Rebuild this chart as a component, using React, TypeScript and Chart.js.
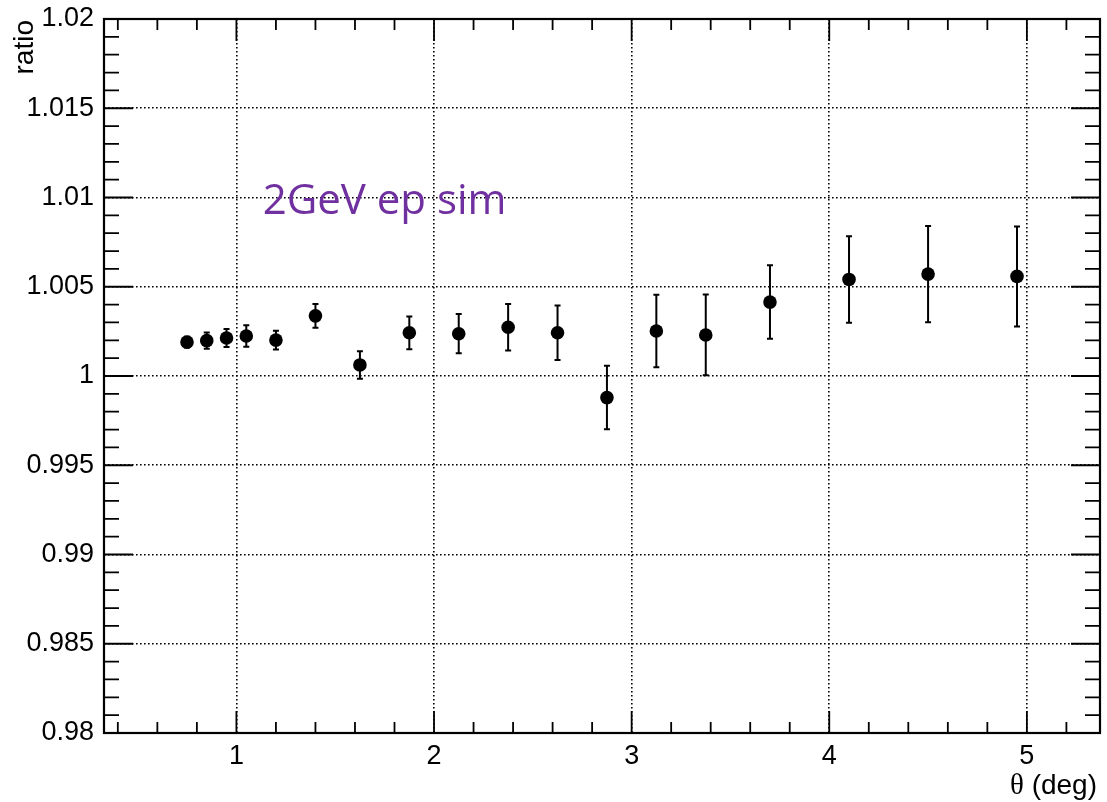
import React, { useEffect, useRef } from 'react';
import { Chart, registerables } from 'chart.js';

Chart.register(...registerables);

// ---- data ----
const thetaDeg = [0.75, 0.85, 0.95, 1.05, 1.2, 1.4, 1.625, 1.875, 2.125, 2.375, 2.625, 2.875, 3.125, 3.375, 3.7, 4.1, 4.5, 4.95];
const ratioValues = [1.0019, 1.00198, 1.00213, 1.00224, 1.00201, 1.00337, 1.00062, 1.00242, 1.00237, 1.00273, 1.00242, 0.99879, 1.00252, 1.0023, 1.00414, 1.00541, 1.00571, 1.00558];
const ratioErrors = [0.0003, 0.00045, 0.0005, 0.0006, 0.00052, 0.00067, 0.00077, 0.00092, 0.0011, 0.0013, 0.00153, 0.00178, 0.00203, 0.00226, 0.00206, 0.00242, 0.0027, 0.0028];

const xTickValues = [1, 2, 3, 4, 5];
const xTickLabels = ['1', '2', '3', '4', '5'];
const yTickValues = [0.98, 0.985, 0.99, 0.995, 1, 1.005, 1.01, 1.015, 1.02];
const yTickLabels = ['0.98', '0.985', '0.99', '0.995', '1', '1.005', '1.01', '1.015', '1.02'];
const xMinorTicks = [0.4, 0.6, 0.8, 1.2, 1.4, 1.6, 1.8, 2.2, 2.4, 2.6, 2.8, 3.2, 3.4, 3.6, 3.8, 4.2, 4.4, 4.6, 4.8, 5.2];
const yMinorTicks = [0.981, 0.982, 0.983, 0.984, 0.986, 0.987, 0.988, 0.989, 0.991, 0.992, 0.993, 0.994, 0.996, 0.997, 0.998, 0.999, 1.001, 1.002, 1.003, 1.004, 1.006, 1.007, 1.008, 1.009, 1.011, 1.012, 1.013, 1.014, 1.016, 1.017, 1.018, 1.019];

const xRange = [0.33, 5.37];
const yRange = [0.98, 1.02];
const annotationText = '2GeV ep sim';
const annotationPos = { x: 1.133, y: 1.00907 };
const yTitle = 'ratio';
const xTitleSymbol = 'θ';
const xTitleRest = ' (deg)';

const SANS = "'Liberation Sans', Arial, Helvetica, sans-serif";

const rootPlugin = {
  id: 'rootStyle',
  beforeDatasetsDraw(chart: any) {
    const { ctx } = chart;
    const xs = chart.scales.x;
    const ys = chart.scales.y;
    ctx.save();
    ctx.strokeStyle = '#000';
    ctx.lineWidth = 2;
    thetaDeg.forEach((t, i) => {
      const px = xs.getPixelForValue(t);
      const lo = ys.getPixelForValue(ratioValues[i] - ratioErrors[i]);
      const hi = ys.getPixelForValue(ratioValues[i] + ratioErrors[i]);
      ctx.beginPath();
      ctx.moveTo(px, lo);
      ctx.lineTo(px, hi);
      ctx.moveTo(px - 3, lo);
      ctx.lineTo(px + 3, lo);
      ctx.moveTo(px - 3, hi);
      ctx.lineTo(px + 3, hi);
      ctx.stroke();
    });
    ctx.restore();
  },
  afterDraw(chart: any) {
    const { ctx, chartArea } = chart;
    const { left, right, top, bottom } = chartArea;
    const xs = chart.scales.x;
    const ys = chart.scales.y;
    ctx.save();
    ctx.strokeStyle = '#000';
    // ticks
    ctx.lineWidth = 1.8;
    ctx.beginPath();
    const xTick = (v: number, len: number) => {
      const p = xs.getPixelForValue(v);
      ctx.moveTo(p, bottom);
      ctx.lineTo(p, bottom - len);
      ctx.moveTo(p, top);
      ctx.lineTo(p, top + len);
    };
    const yTick = (v: number, len: number) => {
      const p = ys.getPixelForValue(v);
      ctx.moveTo(left, p);
      ctx.lineTo(left + len, p);
      ctx.moveTo(right, p);
      ctx.lineTo(right - len, p);
    };
    xTickValues.forEach((v) => xTick(v, 22));
    xMinorTicks.forEach((v) => xTick(v, 11));
    yTickValues.forEach((v) => yTick(v, 29));
    yMinorTicks.forEach((v) => yTick(v, 15));
    ctx.stroke();
    // frame
    ctx.lineWidth = 2.2;
    ctx.strokeRect(left, top, right - left, bottom - top);

    // annotation
    ctx.fillStyle = '#7030a0';
    ctx.font = "42px 'Open Sans', sans-serif";
    ctx.textAlign = 'left';
    ctx.textBaseline = 'alphabetic';
    ctx.fillText(annotationText, xs.getPixelForValue(annotationPos.x), ys.getPixelForValue(annotationPos.y));

    // y title
    ctx.fillStyle = '#000';
    ctx.font = `28px ${SANS}`;
    ctx.save();
    ctx.translate(33, top + 1);
    ctx.rotate(-Math.PI / 2);
    ctx.textAlign = 'right';
    ctx.textBaseline = 'alphabetic';
    ctx.fillText(yTitle, 0, 0);
    ctx.restore();

    // x title
    ctx.textAlign = 'left';
    ctx.textBaseline = 'alphabetic';
    ctx.font = `28px ${SANS}`;
    const restW = ctx.measureText(xTitleRest).width;
    ctx.font = "29px 'Liberation Serif', 'Times New Roman', serif";
    const symW = ctx.measureText(xTitleSymbol).width;
    const endX = right - 3;
    const baseY = bottom + 61;
    ctx.fillText(xTitleSymbol, endX - restW - symW, baseY);
    ctx.font = `28px ${SANS}`;
    ctx.fillText(xTitleRest, endX - restW, baseY);
    ctx.restore();
  },
};

export default function App() {
  const canvasRef = useRef<HTMLCanvasElement | null>(null);

  useEffect(() => {
    const canvas = canvasRef.current;
    if (!canvas) return;
    const chart = new Chart(canvas, {
      type: 'scatter',
      data: {
        datasets: [
          {
            data: thetaDeg.map((t, i) => ({ x: t, y: ratioValues[i] })),
            pointRadius: 6.8,
            pointHoverRadius: 6.8,
            backgroundColor: '#000',
            borderColor: '#000',
            borderWidth: 0,
            showLine: false,
          },
        ],
      },
      options: {
        responsive: false,
        animation: false,
        devicePixelRatio: 1,
        layout: { padding: { top: 19, right: 7, left: 0, bottom: 0 } },
        plugins: {
          legend: { display: false },
          tooltip: { enabled: false },
        },
        scales: {
          x: {
            type: 'linear',
            min: xRange[0],
            max: xRange[1],
            afterBuildTicks: (s: any) => {
              s.ticks = xTickValues.map((v) => ({ value: v }));
            },
            afterFit: (s: any) => {
              s.height = 69;
              s.paddingLeft = 0;
              s.paddingRight = 0;
            },
            ticks: {
              callback: (_v: any, i: number) => xTickLabels[i],
              font: { family: SANS, size: 27 },
              color: '#000',
              padding: 7,
              maxRotation: 0,
              autoSkip: false,
            },
            grid: { color: '#000', lineWidth: 1.6, drawTicks: false },
            border: { display: false, dash: [1.6, 2.4] },
          },
          y: {
            type: 'linear',
            min: yRange[0],
            max: yRange[1],
            afterBuildTicks: (s: any) => {
              s.ticks = yTickValues.map((v) => ({ value: v }));
            },
            afterFit: (s: any) => {
              s.width = 104;
              s.paddingTop = 0;
              s.paddingBottom = 0;
            },
            ticks: {
              callback: (_v: any, i: number) => yTickLabels[i],
              font: { family: SANS, size: 27 },
              color: '#000',
              padding: 10,
              autoSkip: false,
            },
            grid: { color: '#000', lineWidth: 1.6, drawTicks: false },
            border: { display: false, dash: [1.6, 2.4] },
          },
        },
      },
      plugins: [rootPlugin],
    } as any);
    return () => chart.destroy();
  }, []);

  return (
    <div style={{ position: 'absolute', left: 0, top: 0, width: 1107, height: 802, background: '#fff' }}>
      <canvas ref={canvasRef} width={1107} height={802} style={{ display: 'block', width: 1107, height: 802 }} />
    </div>
  );
}
